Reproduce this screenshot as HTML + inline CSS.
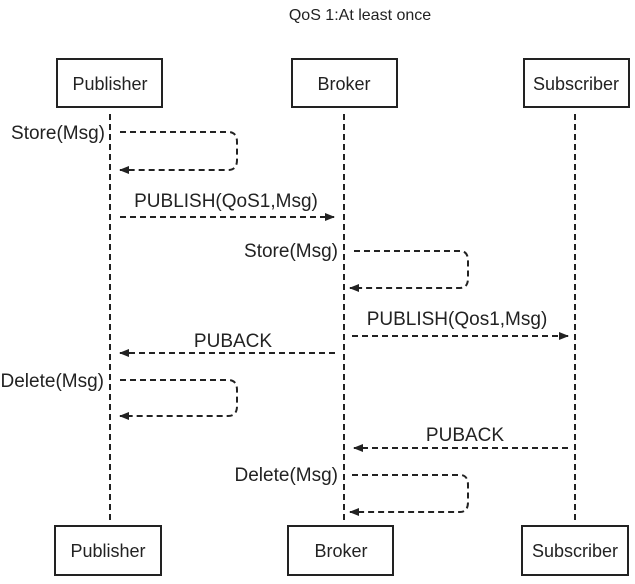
<!DOCTYPE html>
<html><head><style>body{margin:0;background:#fff}</style></head><body>
<svg width="635" height="579" xmlns="http://www.w3.org/2000/svg" font-family="Liberation Sans, sans-serif" font-size="19" fill="#222">
<defs><marker id="a" markerWidth="10" markerHeight="8" refX="9" refY="4" orient="auto" markerUnits="userSpaceOnUse"><path d="M0,0L10,4L0,8z" fill="#222"/></marker></defs>
<text x="360" y="20" text-anchor="middle" font-size="16">QoS 1:At least once</text>
<g fill="#fff" stroke="#222" stroke-width="2">
<rect x="57" y="59" width="105" height="48"/><rect x="292" y="59" width="105" height="48"/><rect x="524" y="59" width="105" height="48"/>
<rect x="55" y="526" width="106" height="49"/><rect x="288" y="526" width="105" height="49"/><rect x="522" y="526" width="106" height="49"/>
</g>
<g text-anchor="middle" font-size="18">
<text x="110" y="90">Publisher</text><text x="344" y="90">Broker</text><text x="576" y="90">Subscriber</text>
<text x="108" y="557">Publisher</text><text x="341" y="557">Broker</text><text x="575" y="557">Subscriber</text>
</g>
<g stroke="#222" stroke-width="2" stroke-dasharray="6,4" fill="none">
<line x1="110" y1="114" x2="110" y2="520"/><line x1="344" y1="114" x2="344" y2="520"/><line x1="575" y1="114" x2="575" y2="520"/>
<path d="M120,132H228Q237,132 237,142V160Q237,170 228,170H120" marker-end="url(#a)"/>
<path d="M354,251H460Q468,251 468,261V278Q468,288 460,288H350" marker-end="url(#a)"/>
<path d="M120,380H228Q237,380 237,390V406Q237,416 228,416H120" marker-end="url(#a)"/>
<path d="M352,475H460Q468,475 468,485V502Q468,512 460,512H350" marker-end="url(#a)"/>
<line x1="120" y1="217" x2="334" y2="217" marker-end="url(#a)"/>
<line x1="352" y1="336" x2="568" y2="336" marker-end="url(#a)"/>
<line x1="335" y1="353" x2="120" y2="353" marker-end="url(#a)"/>
<line x1="568" y1="448" x2="354" y2="448" marker-end="url(#a)"/>
</g>
<g text-anchor="end">
<text x="105" y="139">Store(Msg)</text><text x="338" y="257">Store(Msg)</text>
<text x="104" y="387">Delete(Msg)</text><text x="338" y="481">Delete(Msg)</text>
</g>
<g text-anchor="middle">
<text x="226" y="207">PUBLISH(QoS1,Msg)</text>
<text x="457" y="325">PUBLISH(Qos1,Msg)</text>
<text x="233" y="347">PUBACK</text>
<text x="465" y="441">PUBACK</text>
</g>
</svg>
</body></html>
